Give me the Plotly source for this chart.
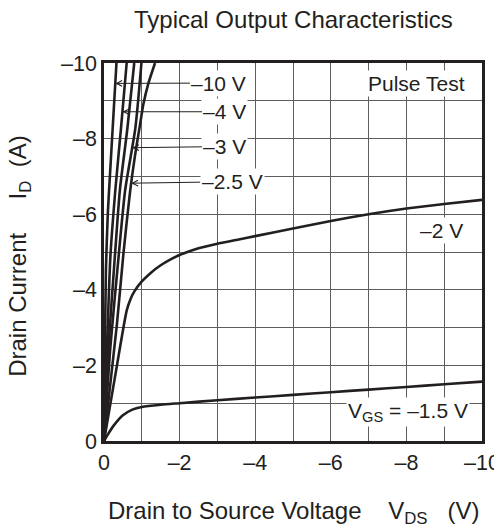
import numpy as np
import plotly.graph_objects as go

# ---------------- data ----------------
chart_title = "Typical Output Characteristics"

# V_DS (V) and I_D (A) for each gate voltage curve (values negative: P-channel)
vds_m10 = [0, -0.02, -0.05, -0.10, -0.15, -0.23, -0.33]
id_m10 = [0, -2.0, -4.5, -6.0, -6.9, -8.28, -10.0]

vds_m5 = [0, -0.08, -0.17, -0.30, -0.45, -0.60]
id_m5 = [0, -2.5, -4.9, -6.64, -8.28, -10.0]

vds_m4 = [0, -0.12, -0.29, -0.42, -0.62, -0.80]
id_m4 = [0, -2.5, -4.92, -6.64, -8.28, -10.0]

vds_m3 = [0, -0.17, -0.39, -0.56, -0.83, -0.99]
id_m3 = [0, -2.5, -4.92, -6.64, -8.28, -10.0]

vds_m25 = [0, -0.34, -0.51, -0.69, -0.82, -0.95, -1.04, -1.17, -1.35]
id_m25 = [0, -3.07, -4.92, -6.6, -7.55, -8.35, -8.9, -9.45, -10.0]

vds_m2 = [0, -0.3, -0.6, -0.7, -0.8, -1.0, -1.25, -1.5, -1.75, -2, -2.5, -3, -3.5, -4, -5, -6, -7, -8, -9, -10]
id_m2 = [0, -1.75, -3.45, -3.75, -3.95, -4.22, -4.46, -4.65, -4.8, -4.92, -5.1, -5.22, -5.32, -5.42,
         -5.62, -5.82, -6.0, -6.15, -6.27, -6.38]

vds_m15 = [0, -0.1, -0.25, -0.5, -0.75, -1, -1.5, -2, -3, -4, -5, -6, -7, -8, -9, -10]
id_m15 = [0, -0.17, -0.4, -0.68, -0.83, -0.9, -0.96, -1.0, -1.08, -1.15, -1.22, -1.29, -1.36, -1.43,
          -1.50, -1.57]

major_vals = [0, -2, -4, -6, -8, -10]
tick_text = ["0", "\u20132", "\u20134", "\u20136", "\u20138", "\u201310"]
minor_vals = [-1, -3, -5, -7, -9]

curve_labels = ["\u201310 V", "\u20134 V", "\u20133 V", "\u20132.5 V"]
label_pos_x = [-3.04, -3.2, -3.2, -3.39]
label_pos_y = [-9.47, -8.71, -7.79, -6.86]
arrow_tip_y = [-9.46, -8.71, -7.76, -6.82]

# ---------------- figure ----------------
INK = "#231f20"
FONT = "Liberation Sans, Arial, sans-serif"
GRID = "#5e5e5e"

fig = go.Figure()
curves = [(vds_m10, id_m10), (vds_m5, id_m5), (vds_m4, id_m4), (vds_m3, id_m3),
          (vds_m25, id_m25), (vds_m2, id_m2), (vds_m15, id_m15)]
for xs, ys in curves:
    fig.add_trace(go.Scatter(x=xs, y=ys, mode="lines",
                             line=dict(color=INK, width=2.6, shape="spline", smoothing=0.6),
                             showlegend=False, hoverinfo="skip"))

axis_common = dict(
    tickvals=major_vals, ticktext=tick_text, showgrid=True, gridcolor=GRID, gridwidth=1.2,
    minor=dict(tickvals=minor_vals, showgrid=True, gridcolor=GRID, gridwidth=1.2, ticks=""),
    showline=True, linecolor=INK, linewidth=2.6, mirror=True, zeroline=False,
    ticks="", automargin=False,
    tickfont=dict(family=FONT, size=21.5, color=INK),
)
fig.update_xaxes(range=[0, -10], **axis_common)
fig.update_yaxes(range=[0, -10], **axis_common)

annotations = []
# arrow labels for the steep curves
arrow_curves = [(vds_m10, id_m10), (vds_m5, id_m5), (vds_m3, id_m3), (vds_m25, id_m25)]
for lab, lx, ly, ty, (xs, ys) in zip(curve_labels, label_pos_x, label_pos_y, arrow_tip_y, arrow_curves):
    tx = -float(np.interp(-ty, [-v for v in ys], [-v for v in xs]))
    annotations.append(dict(x=tx, y=ty, ax=lx, ay=ly, axref="x", ayref="y", xref="x", yref="y",
                            text=lab, showarrow=True, arrowhead=5, arrowsize=1.1, arrowwidth=1,
                            arrowcolor=INK, bgcolor="white", borderpad=1,
                            font=dict(family=FONT, size=21, color=INK)))

annotations += [
    dict(x=-8.28, y=-9.47, xref="x", yref="y", text="Pulse Test", showarrow=False,
         bgcolor="white", font=dict(family=FONT, size=21, color=INK)),
    dict(x=-8.92, y=-5.58, xref="x", yref="y", text="\u20132 V", showarrow=False,
         bgcolor="white", font=dict(family=FONT, size=21, color=INK)),
    dict(x=-8.04, y=-0.78, xref="x", yref="y", text="V<sub>GS</sub> = \u20131.5 V", showarrow=False,
         bgcolor="white", font=dict(family=FONT, size=21, color=INK)),
    dict(x=0.5, y=1.114, xref="paper", yref="paper", text=chart_title, showarrow=False,
         yanchor="middle", font=dict(family=FONT, size=24, color=INK)),
    dict(x=0.5, y=-0.19, xref="paper", yref="paper",
         text="Drain to Source Voltage\u00a0\u00a0\u00a0\u00a0V<sub>DS</sub>\u00a0\u00a0\u00a0(V)",
         showarrow=False, yanchor="middle", font=dict(family=FONT, size=24, color=INK)),
    dict(x=-0.222, y=0.49, xref="paper", yref="paper",
         text="Drain Current\u00a0\u00a0\u00a0\u00a0\u00a0I<sub>D</sub>\u00a0\u00a0(A)", textangle=-90,
         showarrow=False, xanchor="center", yanchor="middle", font=dict(family=FONT, size=24, color=INK)),
]

# the page adds an 8 px body margin, so the figure is 8 px smaller and its margins compensate
fig.update_layout(
    width=494, height=520,
    margin=dict(l=96, r=20, t=55, b=87, autoexpand=False),
    paper_bgcolor="white", plot_bgcolor="white",
    annotations=annotations,
)

fig.write_html("out.html")
